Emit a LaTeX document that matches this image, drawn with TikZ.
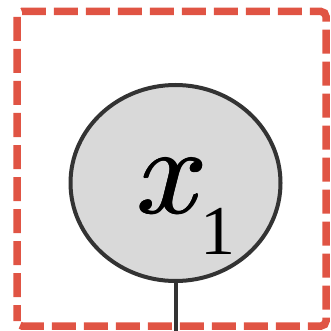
\RequirePackage{fix-cm}
\documentclass[tikz,border=0pt]{standalone}
\usepackage{fontspec}
\setmainfont{Liberation Serif}
\usepackage{xcolor}
\usetikzlibrary{shapes.geometric}
\definecolor{boxred}{HTML}{E05444}
\definecolor{nodegray}{HTML}{D9D9D9}
\definecolor{edgedark}{HTML}{333333}
\newcommand{\heavyx}{\rlap{$x$}\kern1.4pt\rlap{$x$}\raisebox{0.7pt}{\rlap{$x$}}\kern-1.4pt$x$}

\begin{document}
\begin{tikzpicture}[x=1pt, y=-1pt,
            group/.style={draw=boxred, line width=7.5pt, rounded corners=5pt,
                          dash pattern=on 24pt off 8pt, dash phase=8pt},
            var/.style={ellipse, draw=edgedark, fill=nodegray, line width=4pt,
                        minimum width=210pt, minimum height=196pt, inner sep=0pt},
            wire/.style={draw=edgedark, line width=4pt},
        ]
            \useasboundingbox (0,0) rectangle (330,331);
            \draw[group] (17,326) rectangle (326,11.5);
            \node[var] (x1) at (175.5,183) {};
            \node[anchor=base west, inner sep=0pt] (x1lbl) at (136.5,213)
                {\fontsize{125}{125}\selectfont\heavyx\hspace{-6pt}\raisebox{-41pt}{\fontsize{70}{70}\selectfont 1}};
            \coordinate (out) at (175.5,331);
            \draw[wire] (x1.south) -- (out);
        \end{tikzpicture}
\end{document}
